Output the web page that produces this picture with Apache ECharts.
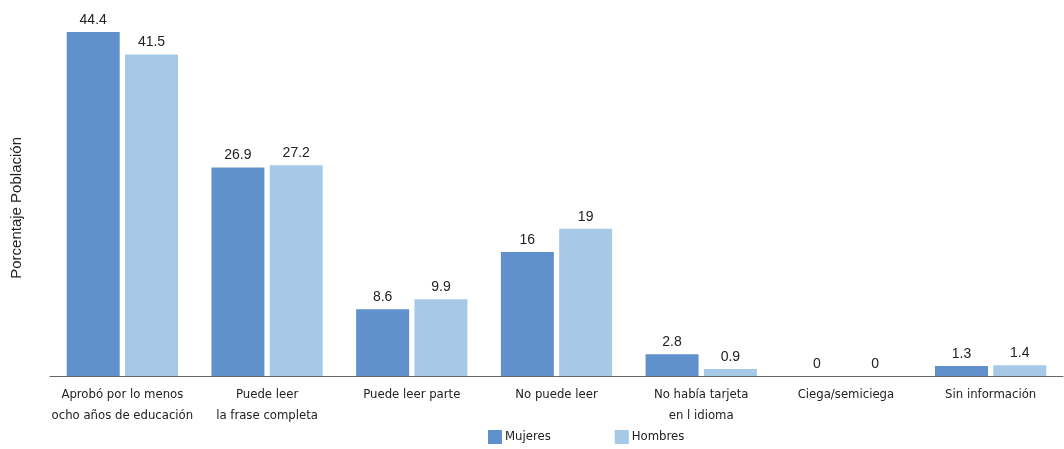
<!DOCTYPE html>
<html><head><meta charset="utf-8">
<script src="https://cdn.jsdelivr.net/npm/echarts@6/dist/echarts.min.js"></script>
<style>html,body{margin:0;padding:0;background:#fff}#c{width:1064px;height:449px}</style>
</head><body><div id="c"></div>
<script>
const categories = ["Aprobó por lo menos\nocho años de educación","Puede leer\nla frase completa","Puede leer parte","No puede leer","No había tarjeta\nen l idioma","Ciega/semiciega","Sin información"];
const mujeres = [44.4, 26.9, 8.6, 16, 2.8, 0, 1.3];
const hombres = [41.5, 27.2, 9.9, 19, 0.9, 0, 1.4];
const yName = "Porcentaje Población";
const chart = echarts.init(document.getElementById('c'));
const labelStyle = {show:true, position:'top', distance:5, color:'#222', fontSize:14, fontFamily:'Liberation Sans, Arial, sans-serif'};
const condensed = 'DejaVu Sans Condensed, Liberation Sans Narrow, sans-serif';
chart.setOption({
  animation:false,
  grid:{left:50, right:1, top:32, bottom:73},
  legend:{
    data:['Mujeres','Hombres'], left:483, bottom:0, itemWidth:14, itemHeight:14, itemGap:64,
    icon:'rect',
    textStyle:{fontSize:13, color:'#222', fontFamily:condensed, padding:[0,0,0,-2]}
  },
  xAxis:{type:'category', data:categories,
    axisLine:{lineStyle:{color:'#666', width:1}}, axisTick:{show:false},
    axisLabel:{interval:0, margin:8, color:'#222', fontSize:13, lineHeight:21, fontFamily:condensed}},
  yAxis:{type:'value', min:0, max:44.4, show:false},
  graphic:[{type:'text', left:9, top:137, rotation:Math.PI/2, style:{text:yName, fontSize:15, fill:'#222', fontFamily:'Liberation Sans, Arial, sans-serif'}}],
  series:[
    {name:'Mujeres', type:'bar', data:mujeres, barWidth:53, barGap:'10%', itemStyle:{color:'#6091CC'}, label:labelStyle},
    {name:'Hombres', type:'bar', data:hombres, barWidth:53, barGap:'10%', itemStyle:{color:'#A6C9E7'}, label:labelStyle}
  ]
});
</script></body></html>
